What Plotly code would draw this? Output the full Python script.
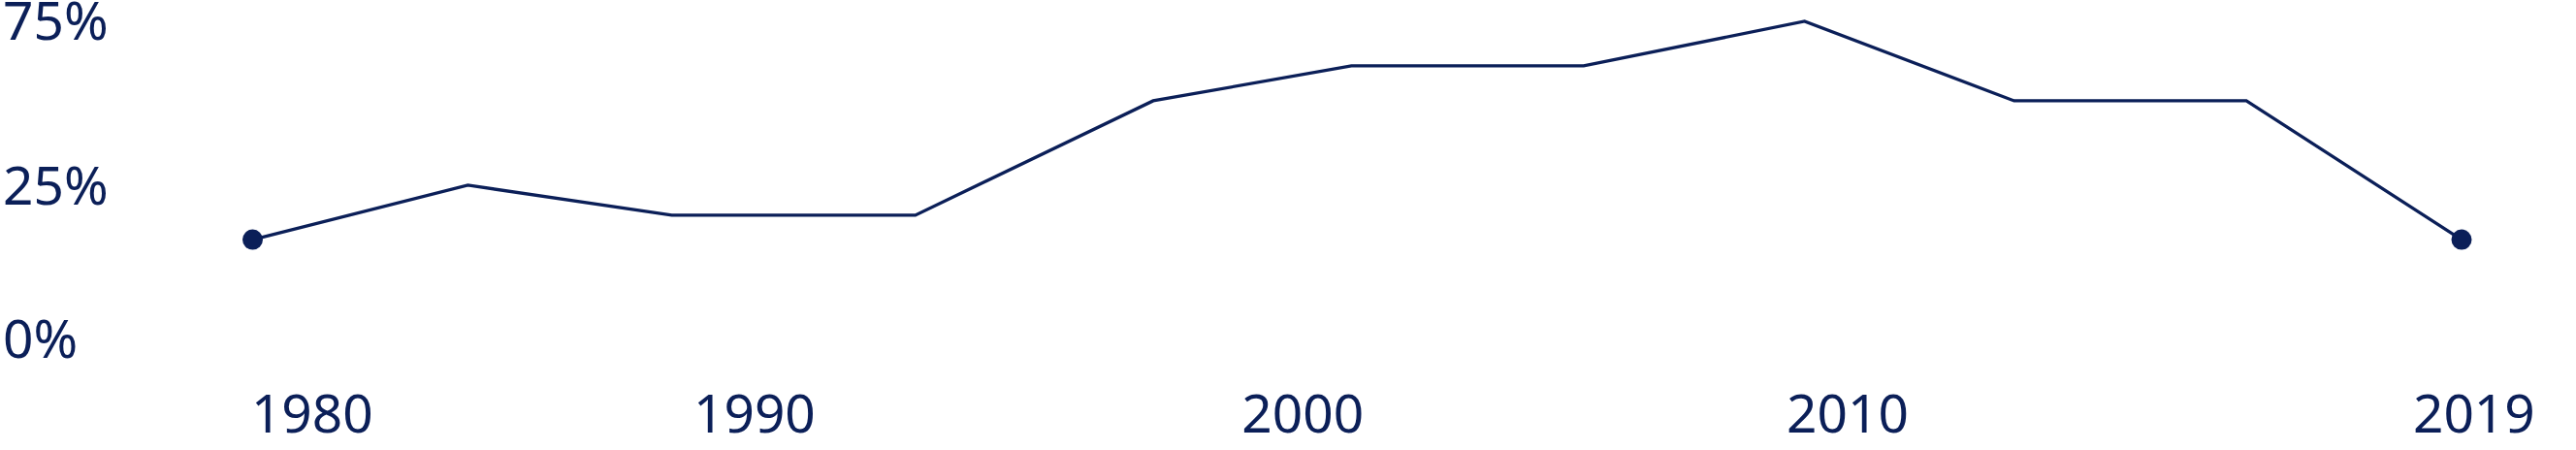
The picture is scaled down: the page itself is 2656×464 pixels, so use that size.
import plotly.graph_objects as go

# values
years = [1980, 1983.8, 1987.4, 1991.7, 1995.9, 1999.4, 2003.5, 2007.4, 2011.1, 2015.2, 2019]
share = [8.8, 25.3, 16.2, 16.2, 50.9, 61.5, 61.5, 75, 50.9, 50.9, 8.8]

x_tick_pos = [1981.05, 1988.86, 1998.54, 2008.16, 2019.22]
x_tick_text = ["1980", "1990", "2000", "2010", "2019"]
y_tick_pos = [-21.5, 25, 75]
y_tick_text = ["0%", "25%", "75%"]

navy = "#0b1f58"
W, H = 2656, 464
plot_h = 390

px_per_pct = 3.4
y_top = 75 + 22 / px_per_pct
y_bot = y_top - plot_h / px_per_pct

px_per_year = (2538 - 260.5) / 39
x_lo = 1980 - 260.5 / px_per_year
x_hi = x_lo + W / px_per_year

sizes = [0] * len(years)
sizes[0] = sizes[-1] = 21

fig = go.Figure()
fig.add_trace(go.Scatter(
    x=years, y=share, mode="lines+markers",
    line=dict(color=navy, width=3.3),
    marker=dict(color=navy, size=sizes, opacity=1, line=dict(width=0)),
    cliponaxis=False, hoverinfo="skip"))

fig.update_layout(
    template="none",
    width=W, height=H,
    margin=dict(l=0, r=0, t=0, b=H - plot_h, pad=0),
    paper_bgcolor="white", plot_bgcolor="white",
    showlegend=False,
    font=dict(family="Noto Sans", size=55, color=navy),
)
fig.update_xaxes(range=[x_lo, x_hi], tickvals=x_tick_pos, ticktext=x_tick_text,
                 tickfont=dict(color=navy), automargin=False,
                 showgrid=False, zeroline=False, showline=False, ticks="")
fig.update_yaxes(range=[y_bot, y_top], tickvals=y_tick_pos, ticktext=y_tick_text,
                 tickfont=dict(color=navy), automargin=False,
                 showgrid=False, zeroline=False, showline=False, ticks="",
                 ticklabelposition="inside", ticklabeloverflow="allow")

fig.write_html("out.html", config={"displayModeBar": False},
               post_script="document.body.style.margin='0';")
